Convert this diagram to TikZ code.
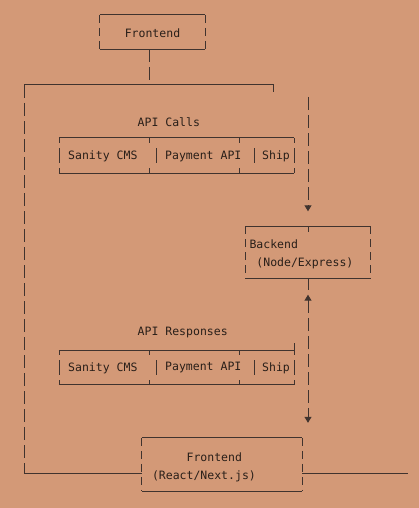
\documentclass[tikz,border=0pt]{standalone}
\usepackage{fontspec}
\setmonofont{DejaVu Sans Mono}
\definecolor{paper}{rgb}{0.827,0.600,0.467}
\definecolor{ink}{rgb}{0.16,0.12,0.10}
\definecolor{rule}{rgb}{0.25,0.20,0.18}
\usetikzlibrary{arrows.meta, positioning, calc}
\newcommand{\asciifont}{\ttfamily\fontsize{11.5}{18.5}\selectfont}
\tikzset{
    asciinode/.style={
           rectangle,
           draw=none,
           inner sep=0pt,
           font=\asciifont,
           text=ink,
           },
    labeltext/.style={asciinode, anchor=west},
    solidrule/.style={draw=rule, line width=1pt},
    siderule/.style={draw=rule, line width=1pt, dash pattern=on 8pt off 5pt},
    busrule/.style={draw=rule, line width=1pt, dash pattern=on 13pt off 5pt},
    arrowdown/.style={-{Triangle[width=7pt,length=6pt]}},
    arrowboth/.style={{Triangle[width=7pt,length=6pt]}-{Triangle[width=7pt,length=6pt]}},
}
% box: solid top and bottom, dashed sides
\newcommand{\asciibox}[1]{%
  \draw[solidrule] (#1.north west) -- (#1.north east) (#1.south west) -- (#1.south east);
  \draw[siderule]  (#1.north west) -- (#1.south west) (#1.north east) -- (#1.south east);
}
% row of services: ticks at the tees, bars beside the texts
\newcommand{\asciirow}[1]{%
  \draw[solidrule] (#1.north west) -- (#1.north east) (#1.south west) -- (#1.south east);
  \foreach \tx in {59,149,239,294}
    \draw[solidrule] (\tx,0 |- #1.north) -- ++(0,5) (\tx,0 |- #1.south) -- ++(0,-5);
  \foreach \tx in {59,156,254,294}
    \draw[solidrule] (\tx,0 |- #1.center) ++(0,-7.5) -- ++(0,15);
}
\newcommand{\Sanity}{Sanity CMS}
\newcommand{\Payment}{Payment API}
\newcommand{\Ship}{Ship}

\begin{document}
\begin{tikzpicture}[x=1pt, y=-1pt]
  \fill[paper] (0,0) rectangle (419,508);
  % boxes
  \node[asciinode, minimum width=105pt, minimum height=34pt, text height=12pt] (fe) at (152.5,32) {Frontend};
  \node[asciinode, minimum height=52pt, inner xsep=3.5pt, text width=117pt, align=left]
       (be) at (308,252.5) {\rule{0pt}{12.5pt}Backend\\\hphantom{x}(Node/Express)};
  \node[asciinode, minimum height=53pt, inner xsep=10pt, text width=140pt, align=left]
       (fe2) at (222,464.5) {\rule{0pt}{14.5pt}\hphantom{xxxxx}Frontend\\(React/Next.js)};
  \asciibox{fe}
  \asciibox{be}
  \asciibox{fe2}
  % calls and responses
  \node[labeltext] (calls) at (137.5,122) {API Calls};
  \node[asciinode, minimum width=235pt, minimum height=35pt] (callrow) at (176.5,155.5) {};
  \node[labeltext] (sanity1)  at (68,156.5)  {\Sanity};
  \node[labeltext] (payment1) at (165,156.5) {\Payment};
  \node[labeltext] (ship1)    at (262,156.5) {\Ship};
  \asciirow{callrow}
  \node[labeltext] (resp) at (137.5,333) {API Responses};
  \node[asciinode, minimum width=235pt, minimum height=34pt] (resprow) at (176.5,367.5) {};
  \node[labeltext] (sanity2)  at (68,368)  {\Sanity};
  \node[labeltext] (payment2) at (165,368) {\Payment};
  \node[labeltext] (ship2)    at (262,368) {\Ship};
  \asciirow{resprow}
  \draw[solidrule] (resprow.north east) -- ++(0,-7);
  % connectors
  \coordinate (j)    at (149,85);
  \coordinate (lt)   at (24,85);
  \coordinate (rt)   at (273,85);
  \coordinate (lb)   at (24,473);
  \coordinate (rb)   at (408,473);
  \coordinate (rtop) at (308,97);
  \draw[busrule] (fe.south -| j) -- (j);
  \draw[solidrule] (lt) -- (rt) -- ++(0,7);
  \draw[busrule] (lt) -- (lb);
  \draw[solidrule] (lb) -- (lb -| fe2.west);
  \draw[solidrule] (lb -| fe2.east) -- (rb);
  \draw[busrule, arrowdown, shorten >=15pt] (rtop) -- (be.north);
  \draw[solidrule] (be.north) -- ++(0,6);
  \draw[solidrule] (be.south) -- ++(0,11);
  \draw[busrule, arrowboth, shorten <=16pt, shorten >=15pt] (be.south) -- (be.south |- fe2.north);
\end{tikzpicture}
\end{document}
